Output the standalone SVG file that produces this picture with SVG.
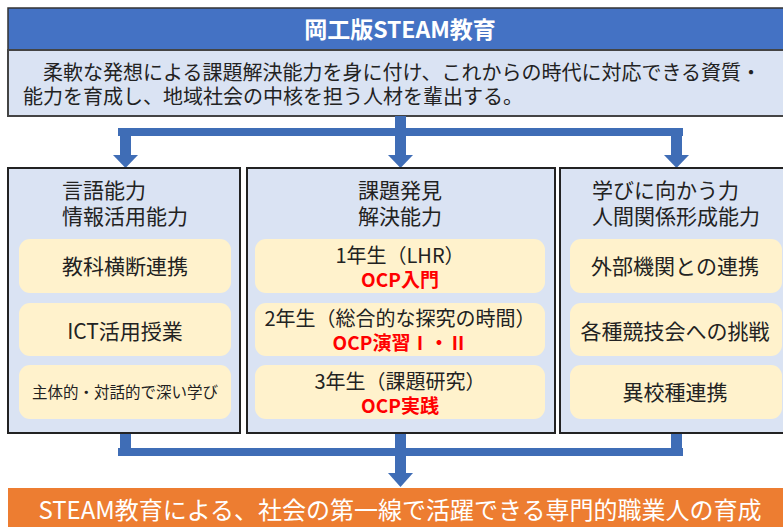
<svg xmlns="http://www.w3.org/2000/svg" width="783" height="527" viewBox="0 0 783 527">
<defs>
<style>
text{font-family:"Noto Sans CJK JP","Noto Sans",sans-serif;}
.t{font-size:21px;fill:#222;}
.s{font-size:20px;fill:#222;}
.c{text-anchor:middle;}
.red{fill:#FF0000;font-weight:bold;font-size:19px;}
.col{fill:#DAE3F3;stroke:#222;stroke-width:2;}
.pill{fill:#FFF2CC;}
.arr{fill:#3F6DB6;}
</style>
</defs>
<rect width="783" height="527" fill="#FFFFFF"/>
<g id="header">
<rect x="8" y="8" width="780" height="42" fill="#4472C4" stroke="#333" stroke-width="1.5"/>
<text x="400" y="38" class="c" font-size="23" font-weight="bold" fill="#FFFFFF">岡工版STEAM教育</text>
</g>
<g id="goal">
<rect x="8" y="50" width="780" height="66" fill="#DAE3F3" stroke="#444" stroke-width="2"/>
<text x="23" y="80" font-size="20" fill="#222">　柔軟な発想による課題解決能力を身に付け、これからの時代に対応できる資質・</text>
<text x="23" y="104" font-size="20" fill="#222">能力を育成し、地域社会の中核を担う人材を輩出する。</text>
</g>
<g id="connectors">
<rect class="arr" x="395" y="116" width="11" height="16"/>
<rect class="arr" x="118" y="128" width="565" height="8"/>
<rect class="arr" x="120" y="128" width="11" height="28"/>
<rect class="arr" x="395" y="128" width="11" height="28"/>
<rect class="arr" x="671" y="128" width="11" height="28"/>
<polygon class="arr" points="113,155 138,155 125.5,168"/>
<polygon class="arr" points="388,155 413,155 400.5,168"/>
<polygon class="arr" points="664,155 689,155 676.5,168"/>
<rect class="arr" x="120" y="433" width="11" height="22"/>
<rect class="arr" x="395" y="433" width="11" height="22"/>
<rect class="arr" x="671" y="433" width="11" height="22"/>
<rect class="arr" x="118" y="448" width="565" height="8"/>
<rect class="arr" x="395" y="448" width="11" height="26"/>
<polygon class="arr" points="388,473 413,473 400.5,487"/>
</g>
<g id="col1">
<rect class="col" x="8" y="168" width="232" height="265"/>
<text class="t" x="62" y="198">言語能力</text>
<text class="t" x="62" y="224">情報活用能力</text>
<rect class="pill" x="19" y="239" width="212" height="54" rx="11"/>
<text class="t c" x="125" y="274">教科横断連携</text>
<rect class="pill" x="19" y="303" width="212" height="53" rx="11"/>
<text class="t c" x="125" y="339">ICT活用授業</text>
<rect class="pill" x="19" y="365" width="212" height="54" rx="11"/>
<text class="c" x="125" y="398" font-size="15.5" fill="#222">主体的・対話的で深い学び</text>
</g>
<g id="col2">
<rect class="col" x="247" y="168" width="308" height="265"/>
<text class="t" x="358" y="198">課題発見</text>
<text class="t" x="358" y="224">解決能力</text>
<rect class="pill" x="255" y="239" width="290" height="54" rx="11"/>
<text class="s c" x="400" y="263">1年生（LHR）</text>
<text class="c red" x="400" y="287">OCP入門</text>
<rect class="pill" x="255" y="303" width="290" height="53" rx="11"/>
<text class="s c" x="400" y="326">2年生（総合的な探究の時間）</text>
<text class="c red" x="400" y="350">OCP演習Ⅰ・Ⅱ</text>
<rect class="pill" x="255" y="365" width="290" height="54" rx="11"/>
<text class="s c" x="400" y="389">3年生（課題研究）</text>
<text class="c red" x="400" y="413">OCP実践</text>
</g>
<g id="col3">
<rect class="col" x="560" y="168" width="230" height="265"/>
<text class="t" x="592" y="198">学びに向かう力</text>
<text class="t" x="592" y="224">人間関係形成能力</text>
<rect class="pill" x="570" y="239" width="212" height="54" rx="11"/>
<text class="t c" x="675" y="274">外部機関との連携</text>
<rect class="pill" x="570" y="303" width="212" height="53" rx="11"/>
<text class="t c" x="675" y="339">各種競技会への挑戦</text>
<rect class="pill" x="570" y="365" width="212" height="54" rx="11"/>
<text class="t c" x="675" y="400">異校種連携</text>
</g>
<g id="outcome">
<rect x="8" y="488" width="780" height="39" fill="#ED7D31"/>
<text x="400" y="519" class="c" font-size="24" fill="#FFFFFF">STEAM教育による、社会の第一線で活躍できる専門的職業人の育成</text>
</g>
</svg>
